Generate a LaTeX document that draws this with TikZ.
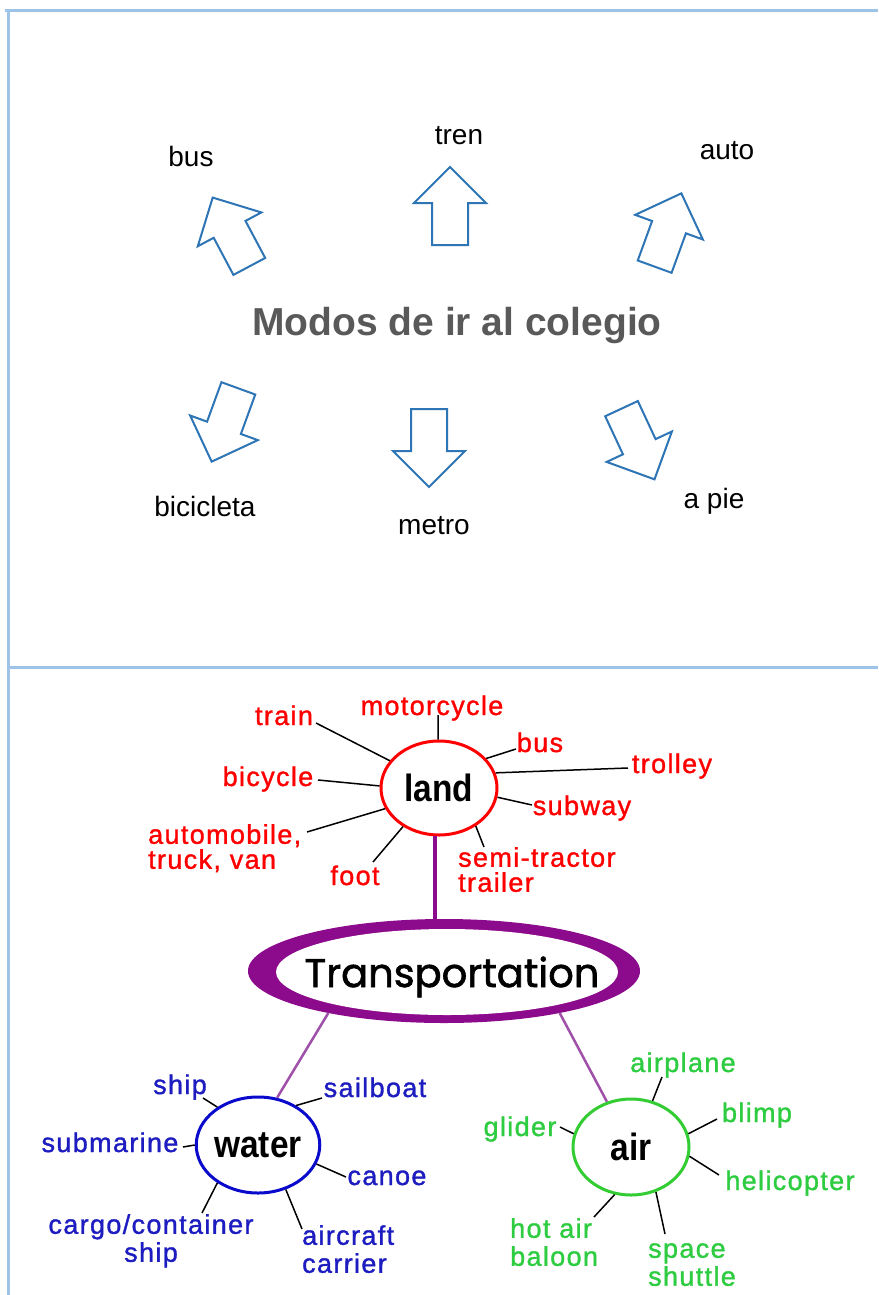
\documentclass[tikz,border=0pt]{standalone}
\usepackage{fontspec}
\setmainfont{Liberation Sans}
\newfontfamily\lblfont[LetterSpace=5,FakeBold=1.2]{Liberation Sans}
\newfontfamily\hubfont[FakeStretch=0.88]{Liberation Sans}
\newfontfamily\transfont[FakeBold=1.5]{Poppins}
\usetikzlibrary{shapes.geometric}
\definecolor{frameblue}{HTML}{9DC3E6}
\definecolor{arrowblue}{HTML}{2E75B6}
\definecolor{titlegray}{HTML}{595959}
\definecolor{landred}{HTML}{FF0000}
\definecolor{waterblue}{HTML}{1C1CC0}
\definecolor{circleblue}{HTML}{0A0ACC}
\definecolor{airgreen}{HTML}{2ECC40}
\definecolor{circlegreen}{HTML}{33CC33}
\definecolor{transpurple}{HTML}{8C0A8C}
\definecolor{linkpurple}{HTML}{A050A8}
\newcommand\blockarrow[3]{\draw[barrow, shift={(#1,#2)}, rotate=#3] (-39,-18) -- (3,-18) -- (3,-36) -- (39,0) -- (3,36) -- (3,18) -- (-39,18) -- cycle;}
\begin{document}
\begin{tikzpicture}[x=1pt,y=-1pt,
  frame/.style={draw=frameblue, line width=3},
  barrow/.style={draw=arrowblue, line width=2, line join=miter},
  toplbl/.style={font=\fontsize{28}{30}\selectfont, inner sep=0, anchor=base},
  hub/.style={ellipse, line width=3, fill=white, inner sep=0, minimum width=116, minimum height=94, font=\hubfont\bfseries\fontsize{38}{40}\selectfont},
  lbl/.style={inner sep=0, font=\lblfont\fontsize{27}{28}\selectfont},
  landlbl/.style={lbl, text=landred},
  waterlbl/.style={lbl, text=waterblue},
  airlbl/.style={lbl, text=airgreen},
  spoke/.style={draw=black, line width=1.5},
  link/.style={draw=linkpurple, line width=2.5}
]
\useasboundingbox (0,0) rectangle (878,1295);
\fill[white] (0,0) rectangle (878,1295);
% frame
\draw[frame] (5,11) -- (878,11);
\draw[frame] (8,11) -- (8,1295);
\draw[frame] (8,667) -- (878,667);

% ---------- top part ----------
\node[font=\bfseries\fontsize{39}{40}\selectfont, text=titlegray, inner sep=0, anchor=base] (title) at (457,335) {Modos de ir al colegio};
\node[toplbl] (tbus) at (191,166) {bus};
\node[toplbl] (ttren) at (459,145) {tren};
\node[toplbl] (tauto) at (727,160) {auto};
\node[toplbl] (tbici) at (205,516) {bicicleta};
\node[toplbl] (tmetro) at (434,534) {metro};
\node[toplbl] (tpie) at (714,508) {a pie};
\blockarrow{450}{206}{90}
\blockarrow{429}{448}{-90}
\blockarrow{231}{232}{118}
\blockarrow{668}{230}{70}
\blockarrow{225}{425}{250}
\blockarrow{638}{444}{-65}

% ---------- bottom part ----------
\node[ellipse, fill=transpurple, inner sep=0, minimum width=392, minimum height=104] (trans) at (444,971) {};
\node[ellipse, fill=white, inner sep=0, minimum width=342, minimum height=86] (transin) at (447,972) {};
\node[font=\transfont\fontsize{40}{44}\selectfont, inner sep=0, anchor=base] (transtext) at (452,987) {Transportation};

\node[hub, draw=landred] (land) at (439,788) {land};
\node[hub, draw=circleblue, minimum height=96] (water) at (258,1145) {water};
\node[hub, draw=circlegreen, minimum height=96] (air) at (631,1147) {air};

\draw[draw=transpurple, line width=4] (land.-95) -- (land.-95 |- trans.north);
\draw[link] (trans.-160) -- (water.68);
\draw[link] (trans.-20) -- (air.118);

% land labels
\node[landlbl, anchor=base] (train) at (284,725) {train};
\node[landlbl, anchor=base] (motorcycle) at (432,715) {motorcycle};
\node[landlbl, anchor=base] (lbus) at (540,752) {bus};
\node[landlbl, anchor=base] (trolley) at (672,773) {trolley};
\node[landlbl, anchor=base] (bicycle) at (268,786) {bicycle};
\node[landlbl, anchor=base] (subway) at (582,815) {subway};
\node[landlbl, anchor=base] (foot) at (355,885) {foot};
\node[landlbl, anchor=north west, align=left, font=\lblfont\fontsize{27}{25}\selectfont] (auto) at (148,824) {automobile,\\truck, van};
\node[landlbl, anchor=north west, align=left, font=\lblfont\fontsize{27}{25}\selectfont] (semi) at (458,847) {semi-tractor\\trailer};

\coordinate (ctrain) at (316,723);
\coordinate (cmoto) at (438,715);
\coordinate (cbus) at (516,749);
\coordinate (ctrolley) at (628,768);
\coordinate (cbicycle) at (318,780);
\coordinate (csubway) at (532,805);
\coordinate (cauto) at (307,832);
\coordinate (cfoot) at (373,862);
\coordinate (csemi) at (484,847);
\draw[spoke] (land.151) -- (ctrain);
\draw[spoke] (land.91) -- (cmoto);
\draw[spoke] (land.32) -- (cbus);
\draw[spoke] (land.15) -- (ctrolley);
\draw[spoke] (land.178) -- (cbicycle);
\draw[spoke] (land.-9) -- (csubway);
\draw[spoke] (land.-159) -- (cauto);
\draw[spoke] (land.-133) -- (cfoot);
\draw[spoke] (land.-46) -- (csemi);

% water labels
\node[waterlbl, anchor=base] (ship) at (180,1094) {ship};
\node[waterlbl, anchor=base] (sailboat) at (375,1097) {sailboat};
\node[waterlbl, anchor=base] (submarine) at (110,1152) {submarine};
\node[waterlbl, anchor=base] (canoe) at (387,1185) {canoe};
\node[waterlbl, anchor=north, align=center] (cargo) at (151,1214) {cargo/container\\ship};
\node[waterlbl, anchor=north west, align=left] (carrier) at (302,1225) {aircraft\\carrier};
\coordinate (cship) at (203,1098);
\coordinate (csail) at (322,1098);
\coordinate (csub) at (183,1147);
\coordinate (ccanoe) at (346,1177);
\coordinate (ccargo) at (202,1213);
\coordinate (ccarrier) at (302,1229);
\draw[spoke] (water.137) -- (cship);
\draw[spoke] (water.46) -- (csail);
\draw[spoke] (water.180) -- (csub);
\draw[spoke] (water.-18) -- (ccanoe);
\draw[spoke] (water.-137) -- (ccargo);
\draw[spoke] (water.-58) -- (ccarrier);

% air labels
\node[airlbl, anchor=base] (airplane) at (683,1072) {airplane};
\node[airlbl, anchor=base] (blimp) at (757,1122) {blimp};
\node[airlbl, anchor=base] (helicopter) at (790,1190) {helicopter};
\node[airlbl, anchor=base] (glider) at (520,1136) {glider};
\node[airlbl, anchor=north west, align=left] (hotair) at (510,1218) {hot air\\baloon};
\node[airlbl, anchor=north west, align=left] (shuttle) at (648,1243) {space\\shuttle};
\coordinate (cplane) at (662,1077);
\coordinate (cblimp) at (717,1119);
\coordinate (cheli) at (719,1175);
\coordinate (cglider) at (560,1127);
\coordinate (chot) at (594,1217);
\coordinate (cspace) at (665,1234);
\draw[spoke] (air.65) -- (cplane);
\draw[spoke] (air.13) -- (cblimp);
\draw[spoke] (air.-9) -- (cheli);
\draw[spoke] (air.167) -- (cglider);
\draw[spoke] (air.-109) -- (chot);
\draw[spoke] (air.-61) -- (cspace);
\end{tikzpicture}
\end{document}
